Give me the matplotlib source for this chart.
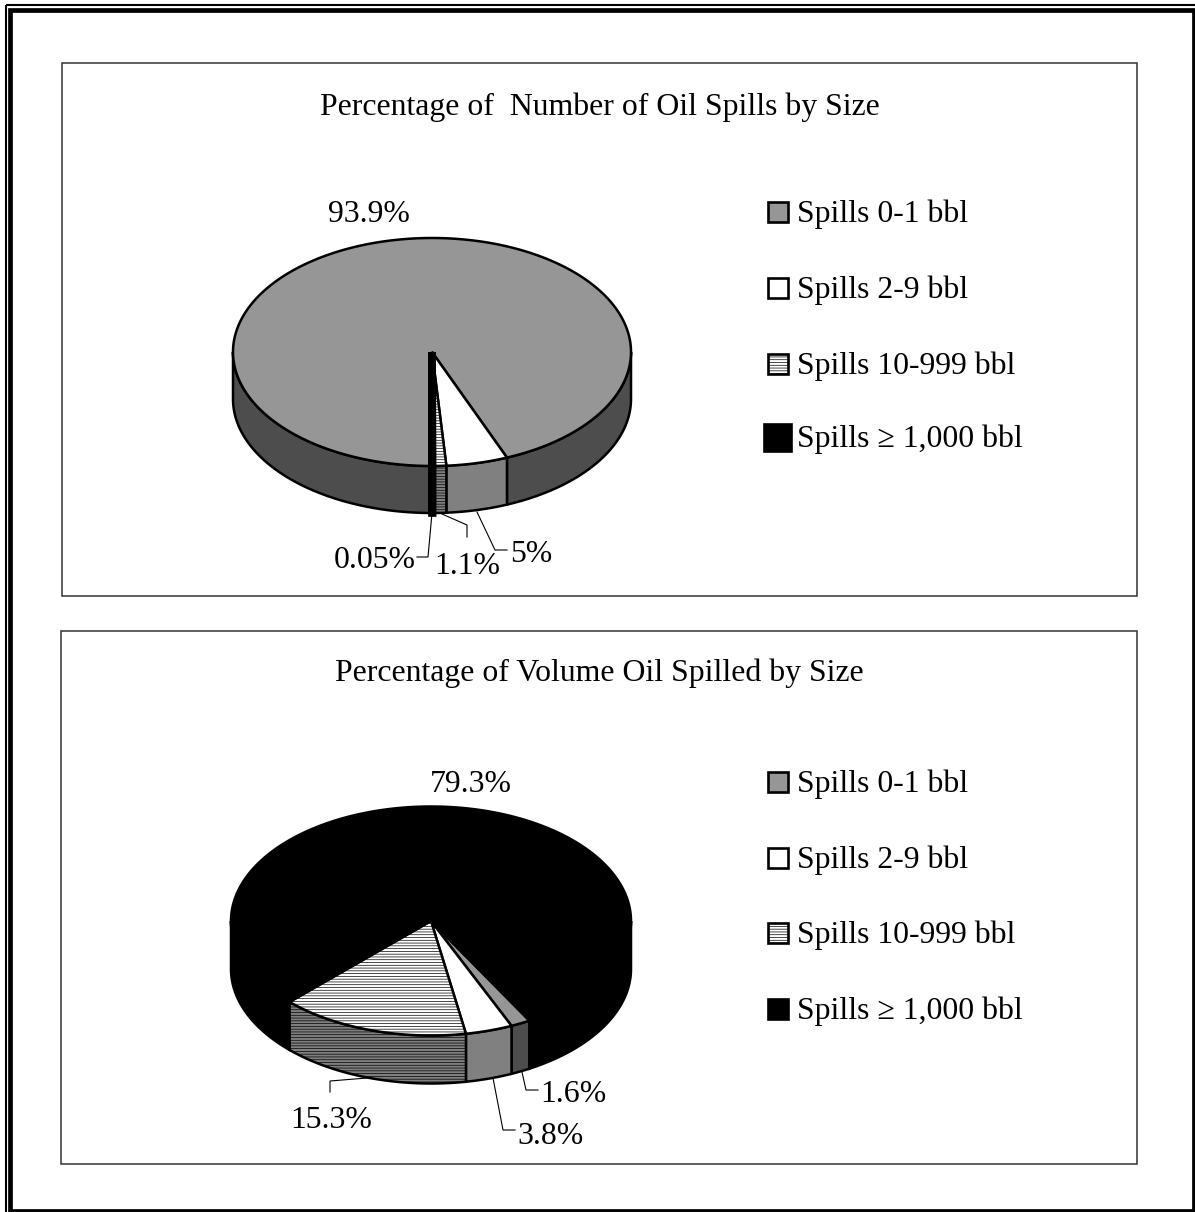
import numpy as np
import matplotlib
matplotlib.use('Agg')
import matplotlib.pyplot as plt
from matplotlib.patches import Polygon, Rectangle

plt.rcParams['font.family'] = ['Liberation Serif', 'DejaVu Serif']
plt.rcParams['hatch.linewidth'] = 0.5

categories = ['Spills 0-1 bbl', 'Spills 2-9 bbl', 'Spills 10-999 bbl', 'Spills \u2265 1,000 bbl']
number_pct = [93.9, 5, 1.1, 0.05]
volume_pct = [1.6, 3.8, 15.3, 79.3]
number_labels = ['93.9%', '5%', '1.1%', '0.05%']
volume_labels = ['1.6%', '3.8%', '15.3%', '79.3%']
title_number = 'Percentage of  Number of Oil Spills by Size'
title_volume = 'Percentage of Volume Oil Spilled by Size'

TOP_COLORS = ['#969696', '#ffffff', '#ffffff', '#000000']
SIDE_COLORS = ['#4d4d4d', '#808080', '#808080', '#000000']
HATCHES = [None, None, '------', None]
FS = 22.9
LW = 1.8


def arc(cx, cy, rx, ry, a0, a1):
    # angles are clockwise from 12 o'clock, in degrees
    t = np.radians(np.linspace(a0, a1, max(int(abs(a1 - a0) * 2), 2)))
    return cx + rx * np.sin(t), cy - ry * np.cos(t)


def draw_pie(ax, values, start, cx, cy, rx, ry, depth):
    vals = np.array(values, dtype=float)
    sweeps = vals / vals.sum() * 360
    edges = start + np.concatenate([[0], np.cumsum(sweeps)])
    # a sliver still shows as a thick black stroke
    widths = [5.5 if s < 1 else LW for s in sweeps]

    # sides first, only the front half of the rim shows
    for k in range(3):
        lo, hi = 90 + 360 * (k - 1), 270 + 360 * (k - 1)
        for i in range(len(vals)):
            a0, a1 = max(edges[i], lo), min(edges[i + 1], hi)
            if a1 <= a0:
                continue
            x, y = arc(cx, cy, rx, ry, a0, a1)
            pts = np.vstack([np.column_stack([x, y]),
                             np.column_stack([x[::-1], y[::-1] + depth])])
            ax.add_patch(Polygon(pts, closed=True, facecolor=SIDE_COLORS[i],
                                 edgecolor='black', linewidth=widths[i], hatch=HATCHES[i],
                                 joinstyle='miter'))

    # top face, black last so the thin wedge stays on top
    order = np.argsort([TOP_COLORS[i] == '#000000' for i in range(len(vals))], kind='stable')
    for i in order:
        x, y = arc(cx, cy, rx, ry, edges[i], edges[i + 1])
        pts = np.vstack([[cx, cy], np.column_stack([x, y])])
        ax.add_patch(Polygon(pts, closed=True, facecolor=TOP_COLORS[i],
                             edgecolor='black', linewidth=widths[i], hatch=HATCHES[i],
                             joinstyle='bevel' if widths[i] > LW else 'miter'))


def draw_legend(ax, ys, black_big):
    for i, (name, y) in enumerate(zip(categories, ys)):
        s = 20
        if i == 3 and black_big:
            s = 27
        ax.add_patch(Rectangle((778 - s / 2, y - s / 2), s, s, facecolor=TOP_COLORS[i],
                               edgecolor='black', linewidth=1.9, hatch=HATCHES[i]))
        ax.text(797, y + 10, name, fontsize=FS, ha='left', va='baseline')


def leader(ax, xs, ys):
    ax.plot(xs, ys, color='black', linewidth=0.8, solid_joinstyle='miter')


fig = plt.figure(figsize=(11.95, 12.12), dpi=100)
ax = fig.add_axes([0, 0, 1, 1])
ax.set_xlim(0, 1195)
ax.set_ylim(1212, 0)
ax.axis('off')

# page frame
ax.add_patch(Rectangle((6, 5), 1300, 1300, fill=False, edgecolor='black', linewidth=1.5))
ax.add_patch(Rectangle((10.5, 10), 1184, 1200.5, fill=False, edgecolor='black', linewidth=3.4))

# panels
ax.add_patch(Rectangle((62.5, 63), 1074.5, 533, fill=False, edgecolor='#333333', linewidth=1.1))
ax.add_patch(Rectangle((61.5, 631), 1075.5, 533, fill=False, edgecolor='#333333', linewidth=1.1))

ax.text(600, 107, title_number, fontsize=FS, ha='center', va='center')
ax.text(599, 673, title_volume, fontsize=FS, ha='center', va='center')

draw_pie(ax, number_pct, 180, 432, 352, 199, 114, 47)
draw_pie(ax, volume_pct, 150.5, 431, 921, 200, 114.5, 48)

draw_legend(ax, [212, 288, 364, 437], True)
draw_legend(ax, [782, 858, 933, 1009], False)

# number pie labels
ax.text(369, 215, number_labels[0], fontsize=FS, ha='center', va='center')
ax.text(531, 555, number_labels[1], fontsize=FS, ha='center', va='center')
ax.text(467, 567, number_labels[2], fontsize=FS, ha='center', va='center')
ax.text(375, 561, number_labels[3], fontsize=FS, ha='center', va='center')
leader(ax, [432, 428, 417], [513, 557, 557])
leader(ax, [442, 467, 467], [514, 525, 537])
leader(ax, [477, 495, 507], [512, 550, 550])

# volume pie labels
ax.text(573, 1095, volume_labels[0], fontsize=FS, ha='center', va='center')
ax.text(551, 1136, volume_labels[1], fontsize=FS, ha='center', va='center')
ax.text(331, 1120, volume_labels[2], fontsize=FS, ha='center', va='center')
ax.text(471, 784, volume_labels[3], fontsize=FS, ha='center', va='center')
leader(ax, [522, 526, 538], [1072, 1090, 1090])
leader(ax, [493, 503, 515], [1078, 1130, 1130])
leader(ax, [367, 330, 330], [1078, 1081, 1092])

fig.savefig('out.png', dpi=100)
